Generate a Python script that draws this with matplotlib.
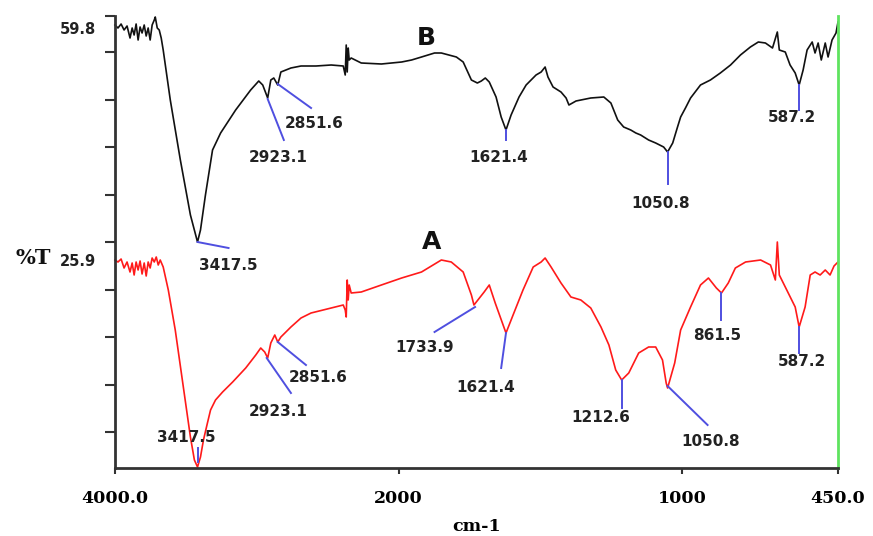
import numpy as np
import matplotlib
matplotlib.use("Agg")
import matplotlib.pyplot as plt

# ---------------- data ----------------
# Spectrum B (upper, black): wavenumber (cm-1) and transmittance (arb. units)
wn_B = [4000, 3979, 3957, 3936, 3915, 3894, 3879, 3865, 3851, 3837, 3823, 3809, 3794,
        3780, 3766, 3752, 3738, 3723, 3716, 3702, 3688, 3674, 3660, 3610, 3539, 3468,
        3418, 3397, 3362, 3312, 3255, 3149, 3043, 2986, 2958, 2923, 2901, 2880, 2852,
        2830, 2759, 2688, 2582, 2475, 2390, 2376, 2369, 2362, 2355, 2348, 2334, 2263,
        2121, 1989, 1954, 1919, 1873, 1849, 1796, 1772, 1743, 1722, 1708, 1694, 1680,
        1656, 1638, 1621, 1603, 1575, 1550, 1515, 1497, 1483, 1473, 1455, 1427, 1409,
        1399, 1374, 1322, 1276, 1251, 1227, 1206, 1181, 1163, 1146, 1118, 1093, 1065,
        1051, 1033, 1016, 1005, 988, 970, 935, 900, 865, 829, 794, 759, 731, 706, 681,
        664, 657, 636, 619, 601, 587, 573, 559, 541, 531, 520, 509, 495, 485, 471, 457, 450]
tr_B = [88.6, 88.0, 88.8, 87.6, 88.4, 86.0, 88.0, 86.6, 88.8, 85.6, 88.2, 87.0, 88.6,
        86.4, 88.0, 85.6, 88.6, 89.6, 90.2, 88.0, 87.6, 86.0, 83.6, 73.6, 61.6, 50.6,
        45.2, 47.6, 54.6, 63.6, 67.0, 71.6, 75.6, 77.4, 76.6, 74.0, 77.6, 78.0, 76.6,
        79.2, 80.0, 80.4, 80.4, 80.6, 80.4, 78.6, 84.6, 79.2, 84.0, 81.6, 82.0, 81.0,
        80.8, 81.2, 81.6, 82.2, 83.0, 83.0, 82.2, 81.2, 77.6, 77.0, 77.4, 78.0, 77.2,
        74.2, 70.2, 67.6, 70.6, 74.2, 76.6, 78.6, 79.2, 80.2, 78.2, 76.2, 75.2, 74.0,
        72.6, 73.4, 74.0, 74.2, 73.0, 69.6, 68.2, 67.6, 67.0, 66.6, 65.6, 65.0, 64.2,
        63.2, 65.0, 68.2, 70.2, 72.0, 74.0, 76.6, 77.6, 79.0, 80.6, 82.6, 84.2, 85.2, 85.0, 84.0,
        87.2, 83.6, 83.2, 80.6, 79.0, 76.6, 79.6, 83.6, 85.2, 83.0, 85.0, 81.6, 85.0, 82.2, 85.6, 87.0, 89.2]

# Spectrum A (lower, red)
wn_A = [4000, 3979, 3957, 3936, 3915, 3894, 3879, 3865, 3851, 3837, 3823, 3809, 3794,
        3780, 3766, 3752, 3738, 3723, 3709, 3695, 3681, 3660, 3624, 3575, 3518, 3468,
        3440, 3418, 3397, 3376, 3348, 3326, 3291, 3241, 3170, 3078, 3007, 2972, 2944,
        2923, 2901, 2873, 2852, 2830, 2759, 2688, 2617, 2475, 2390, 2376, 2369, 2362,
        2355, 2348, 2334, 2263, 2121,
        1989, 1919, 1849, 1814, 1772, 1743, 1734, 1698, 1680, 1659, 1621, 1596, 1561,
        1525, 1497, 1483, 1462, 1427, 1392, 1357, 1322, 1286, 1258, 1234, 1213, 1188,
        1153, 1118, 1093, 1069, 1056, 1051, 1026, 1005, 970, 935, 907, 879, 861, 837,
        812, 776, 723, 688, 671, 664, 657, 636, 601, 587, 566, 548, 531, 513, 495, 478,
        464, 450]
tr_A = [41.6, 41.2, 41.8, 40.0, 41.2, 39.2, 41.0, 38.6, 41.2, 39.6, 41.4, 38.8, 41.0,
        38.4, 41.2, 40.0, 42.0, 41.2, 42.2, 40.6, 41.6, 40.2, 35.6, 27.6, 16.2, 6.2,
        1.6, 0.2, 2.2, 5.6, 9.0, 11.6, 13.6, 15.2, 17.2, 20.0, 22.6, 24.0, 23.2,
        22.0, 25.0, 26.6, 25.2, 26.2, 28.2, 30.0, 31.0, 32.0, 32.6, 31.6, 30.2, 37.6,
        33.6, 36.6, 35.0, 35.2, 36.6,
        38.0, 39.2, 41.6, 41.2, 39.2, 34.6, 32.6, 35.2, 36.6, 33.0, 27.0, 30.6, 35.6,
        40.2, 41.2, 42.0, 40.2, 37.0, 34.2, 33.6, 32.0, 28.2, 24.6, 19.6, 17.6, 19.0,
        23.0, 24.2, 24.2, 21.6, 17.0, 16.0, 21.0, 27.6, 32.2, 36.6, 38.0, 36.0, 35.0, 37.0,
        40.0, 41.2, 41.6, 40.6, 37.6, 45.2, 38.6, 36.2, 32.2, 28.2, 32.2, 38.6, 39.2, 38.6, 39.6, 38.6,
        40.4, 41.2]

# Peak labels
peaks_B = ["3417.5", "2923.1", "2851.6", "1621.4", "1050.8", "587.2"]
peaks_A = ["3417.5", "2923.1", "2851.6", "1733.9", "1621.4", "1212.6", "1050.8", "861.5", "587.2"]

x_ticks = [4000, 2000, 1000, 450]
x_tick_labels = ["4000.0", "2000", "1000", "450.0"]

# ---------------- layout of annotations (leader line start/end, text position) ----------------
lay_B = [((3418, 45.2), (3199, 44.0), (3199, 40.6)),
         ((2923, 73.8), (2809, 65.6), (2851, 62.0)),
         ((2852, 76.8), (2617, 72.0), (2596, 69.0)),
         ((1621, 67.6), (1621, 65.6), (1645, 62.2)),
         ((1051, 63.2), (1051, 56.8), (1075, 53.0)),
         ((587, 76.6), (587, 71.6), (611, 70.0))]
lay_A = [((3418, 4.0), (3418, 1.2), (3497, 6.0)),
         ((2930, 22.0), (2759, 15.0), (2851, 11.2)),
         ((2852, 25.2), (2653, 20.6), (2568, 18.2)),
         ((1730, 32.2), (1873, 27.2), (1909, 24.0)),
         ((1621, 27.0), (1638, 20.0), (1691, 16.2)),
         ((1213, 17.6), (1213, 12.0), (1286, 10.0)),
         ((1051, 16.4), (910, 8.6), (900, 5.2)),
         ((861, 35.0), (861, 29.6), (877, 26.6)),
         ((587, 28.2), (587, 23.0), (577, 21.2))]

y_ticks = [7.2, 16.7, 26.2, 35.7, 45.2, 54.7, 64.2, 73.7, 83.2, 90.4]

# ---------------- figure ----------------
W, H = 873, 536
fig = plt.figure(figsize=(W / 100, H / 100), dpi=100)
ax = fig.add_axes([115 / W, 1 - 468 / H, (838 - 115) / W, (468 - 16) / H])


def fwd(w):
    w = np.asarray(w, dtype=float)
    return np.where(w > 2000, 2000 + (w - 2000) * 0.5, w)


def inv(v):
    v = np.asarray(v, dtype=float)
    return np.where(v > 2000, 2000 + (v - 2000) * 2.0, v)


ax.set_xscale('function', functions=(fwd, inv))
ax.set_xlim(4000, 450)
ax.set_ylim(0, 90.4)

ax.plot(wn_B, tr_B, color='#111111', lw=1.2, clip_on=False)
ax.plot(wn_A, tr_A, color='#ff1a1a', lw=1.2, clip_on=False)

blue = '#4f4fe0'
num_font = dict(family='DejaVu Sans', fontweight='bold', fontsize=11, color='#222222',
                ha='center', va='center')
for lab, ((x0, y0), (x1, y1), (tx, ty)) in zip(peaks_B, lay_B):
    ax.plot([x0, x1], [y0, y1], color=blue, lw=1.4)
    ax.text(tx, ty, lab, **num_font)
for lab, ((x0, y0), (x1, y1), (tx, ty)) in zip(peaks_A, lay_A):
    ax.plot([x0, x1], [y0, y1], color=blue, lw=1.4)
    ax.text(tx, ty, lab, **num_font)

ax.text(1902, 86.0, "B", family='DejaVu Sans', fontweight='bold', fontsize=18,
        ha='center', va='center', color='#111111')
ax.text(1884, 45.2, "A", family='DejaVu Sans', fontweight='bold', fontsize=18,
        ha='center', va='center', color='#111111')

# spines / ticks
ax.spines['top'].set_visible(False)
ax.spines['left'].set_color('#333333')
ax.spines['bottom'].set_color('#333333')
ax.spines['left'].set_linewidth(2.0)
ax.spines['bottom'].set_linewidth(2.0)
ax.spines['right'].set_color('#5fe35f')
ax.spines['right'].set_linewidth(2.0)

ax.set_yticks(y_ticks)
ax.set_yticklabels([])
ax.tick_params(axis='y', direction='out', length=7, width=1.5, color='#333333')
ax.set_xticks(x_ticks)
ax.set_xticklabels(x_tick_labels, family='DejaVu Serif', fontweight='bold', fontsize=12.5)
ax.tick_params(axis='x', direction='out', length=4, width=1.5, color='#333333', pad=12)
ax.xaxis.set_minor_locator(matplotlib.ticker.NullLocator())
ax.set_xlabel("cm-1", family='DejaVu Serif', fontweight='bold', fontsize=12.5, labelpad=8)

fig.text(78 / W, 1 - 29 / H, "59.8", family='DejaVu Sans', fontweight='bold', fontsize=10.5,
         ha='center', va='center', color='#222222')
fig.text(78 / W, 1 - 262 / H, "25.9", family='DejaVu Sans', fontweight='bold', fontsize=10.5,
         ha='center', va='center', color='#222222')
fig.text(33 / W, 1 - 258 / H, "%T", family='DejaVu Serif', fontweight='bold', fontsize=15,
         ha='center', va='center', color='#111111')

fig.savefig("out.png", dpi=100)
